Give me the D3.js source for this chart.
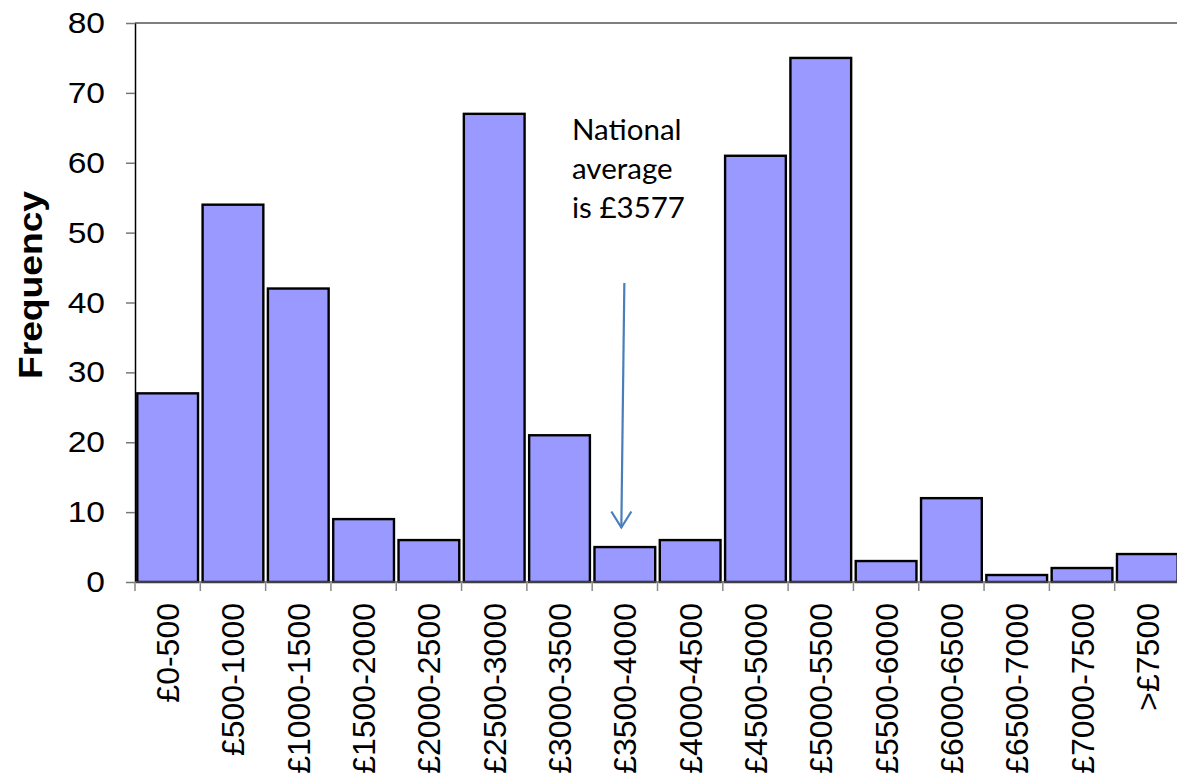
<!DOCTYPE html>
<html>
<head>
<meta charset="utf-8">
<script src="https://cdn.jsdelivr.net/npm/d3@7"></script>
<style>
  html, body { margin: 0; padding: 0; background: #fff; }
  svg { display: block; }
</style>
</head>
<body>
<svg id="chart" width="1177" height="774"></svg>
<script>
const categories = ["£0-500","£500-1000","£1000-1500","£1500-2000","£2000-2500","£2500-3000","£3000-3500","£3500-4000","£4000-4500","£4500-5000","£5000-5500","£5500-6000","£6000-6500","£6500-7000","£7000-7500",">£7500"];
const frequencies = [27, 54, 42, 9, 6, 67, 21, 5, 6, 61, 75, 3, 12, 1, 2, 4];
const yTicks = [0, 10, 20, 30, 40, 50, 60, 70, 80];
const annotationLines = ["National", "average", "is £3577"];
const annotationCategory = "£3500-4000";
const arrowFrom = 42.8, arrowTo = 7.8;

const svg = d3.select("#chart");
const mLeft = 135, mRight = 1180, mTop = 23, mBottom = 582;

const x = d3.scaleBand().domain(categories).range([mLeft, mRight]).paddingInner(0.07).paddingOuter(0.035);
const xTick = d3.scaleBand().domain(categories).range([mLeft, mRight]);
const y = d3.scaleLinear().domain([0, 80]).range([mBottom, mTop]);

// top border
svg.append("line").attr("x1", mLeft).attr("x2", mRight).attr("y1", y(80)).attr("y2", y(80))
  .attr("stroke", "#555").attr("stroke-width", 1.5);

// Y axis
const yAxis = svg.append("g").attr("transform", `translate(${mLeft},0)`)
  .call(d3.axisLeft(y).tickValues(yTicks).tickSize(9).tickPadding(21).tickSizeOuter(0));
yAxis.select(".domain").attr("stroke", "#000").attr("stroke-width", 1.5);
yAxis.selectAll(".tick line").attr("stroke", "#777").attr("stroke-width", 1.5);
yAxis.selectAll(".tick text")
  .attr("x", 0)
  .attr("transform", "translate(-30,0) scale(1.12,1)")
  .attr("font-family", "Liberation Sans, Arial, sans-serif")
  .attr("font-size", 30).attr("fill", "#000");

// Bars
svg.append("g").selectAll("rect").data(frequencies).join("rect")
  .attr("x", (d, i) => x(categories[i]))
  .attr("y", d => y(d))
  .attr("width", x.bandwidth())
  .attr("height", d => y(0) - y(d))
  .attr("fill", "#9999ff")
  .attr("stroke", "#000")
  .attr("stroke-width", 2.4);

// X axis
const xAxisG = svg.append("g").attr("transform", `translate(0,${mBottom})`);
xAxisG.append("line").attr("x1", mLeft).attr("x2", mRight).attr("stroke", "#555").attr("stroke-width", 1.5);
xAxisG.selectAll("line.tk").data(categories.concat(["end"])).join("line").attr("class", "tk")
  .attr("x1", (d, i) => mLeft + i * xTick.step()).attr("x2", (d, i) => mLeft + i * xTick.step())
  .attr("y1", 0).attr("y2", 9).attr("stroke", "#888").attr("stroke-width", 1.5);
xAxisG.selectAll("text").data(categories).join("text")
  .attr("transform", d => `translate(${xTick(d) + xTick.bandwidth() / 2 + 11.5},21) rotate(-90)`)
  .attr("text-anchor", "end")
  .attr("font-family", "Liberation Sans, Arial, sans-serif")
  .attr("font-size", 32)
  .attr("fill", "#000")
  .text(d => d);

// Y title
svg.append("text")
  .attr("transform", `translate(41.5,285) rotate(-90)`)
  .attr("text-anchor", "middle")
  .attr("font-family", "Liberation Sans, Arial, sans-serif")
  .attr("font-weight", "bold")
  .attr("font-size", 33)
  .attr("textLength", 188)
  .attr("lengthAdjust", "spacingAndGlyphs")
  .text("Frequency");

// Annotation
const ax = x(annotationCategory) + x.bandwidth() / 2;
svg.append("g").selectAll("text").data(annotationLines).join("text")
  .attr("x", 572)
  .attr("y", (d, i) => 140 + i * 39)
  .attr("font-family", "Lato, Open Sans, sans-serif")
  .attr("font-size", 29.5)
  .attr("fill", "#000")
  .text(d => d);

const arrowColor = "#4a7ebb";
svg.append("line")
  .attr("x1", ax - 0.5).attr("y1", y(arrowFrom))
  .attr("x2", ax - 3.5).attr("y2", y(arrowTo))
  .attr("stroke", arrowColor).attr("stroke-width", 2.2);
svg.append("path")
  .attr("d", `M${ax - 13.5},${y(arrowTo) - 16} L${ax - 3.5},${y(arrowTo)} L${ax + 6.5},${y(arrowTo) - 16}`)
  .attr("fill", "none").attr("stroke", arrowColor).attr("stroke-width", 2.2);
</script>
</body>
</html>
